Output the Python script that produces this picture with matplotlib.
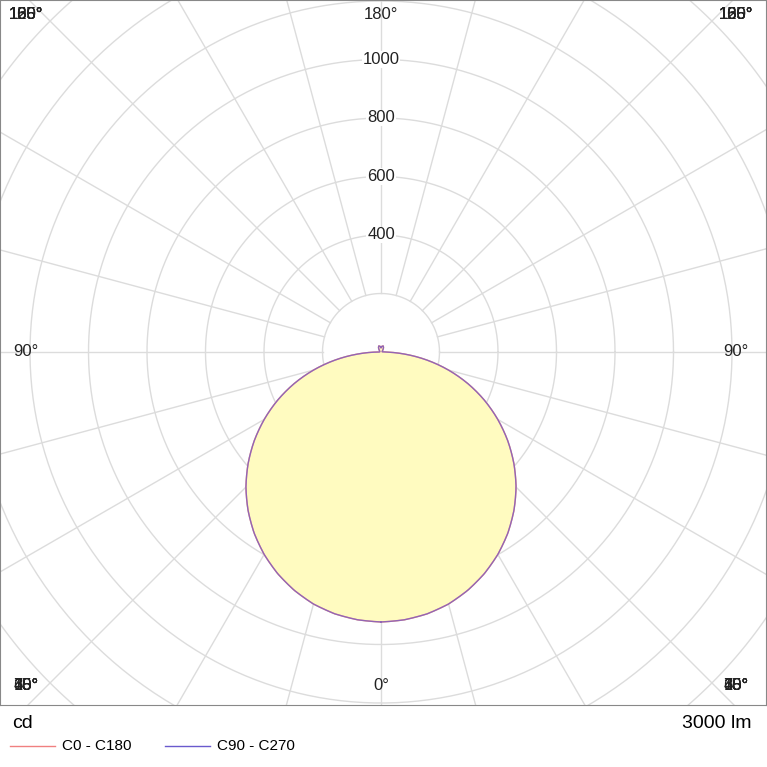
import numpy as np
import matplotlib.pyplot as plt

plt.rcParams['font.family'] = ['Liberation Sans', 'DejaVu Sans']

# luminous intensity (cd) vs angle from nadir, symmetric
angles = [0, 5, 10, 15, 20, 25, 30, 35, 40, 45, 50, 55, 60, 65, 70, 75, 80, 85, 90,
          100, 110, 120, 130, 140, 150, 160, 170, 180]
c0_c180 = [923, 919, 909, 892, 867, 836, 799, 756, 707, 653, 593, 529, 461, 390, 316, 239, 160, 80, 6,
           4, 4, 5, 7, 10, 17, 22, 20, 14]
c90_c270 = c0_c180
ring_values = [200, 400, 600, 800, 1000, 1200, 1400, 1600, 1800]
ring_labels = [400, 600, 800, 1000]
spoke_angles = list(range(0, 360, 15))
flux_text = "3000 lm"

S = 0.2925  # px per cd
W = 767
cx, cy = 381, 352
left, right, top, bottom = 0, 766, 0, 705

fig = plt.figure(figsize=(W / 100, W / 100), dpi=100)
ax = fig.add_axes([left / W, 1 - bottom / W, (right - left) / W, (bottom - top) / W])
ax.set_xlim((left - cx) / S, (right - cx) / S)
ax.set_ylim((cy - bottom) / S, (cy - top) / S)
ax.set_xticks([]); ax.set_yticks([])
for s in ax.spines.values():
    s.set_color('#888888'); s.set_linewidth(0.8)

grid = '#dcdcdc'
t = np.linspace(0, 2 * np.pi, 400)
for r in ring_values:
    ax.plot(r * np.cos(t), r * np.sin(t), color=grid, lw=1, zorder=1)
for a in spoke_angles:
    th = np.radians(a)
    ax.plot([200 * np.sin(th), 3000 * np.sin(th)], [-200 * np.cos(th), -3000 * np.cos(th)],
            color=grid, lw=1, zorder=1)

# curves (mirror to full circle), drawn with a fine angular step for smooth arcs
full_deg = np.concatenate([angles, 360 - np.array(angles[::-1])])
fine_deg = np.linspace(0, 360, 1441)
for vals, col, alpha in [(c0_c180, '#f08080', 1.0), (c90_c270, '#6a5acd', 0.7)]:
    v = np.interp(fine_deg, full_deg, np.concatenate([vals, vals[::-1]]))
    th = np.radians(fine_deg)
    x = v * np.sin(th); y = -v * np.cos(th)
    if col == '#f08080':
        ax.fill(x, y, color='#fffbc0', zorder=2)
    ax.plot(x, y, color=col, lw=1, alpha=alpha, zorder=3)

for r in ring_labels:
    ax.text(0, r, str(r), ha='center', va='center', fontsize=12, color='#222222', zorder=4,
            bbox=dict(facecolor='white', edgecolor='none', pad=0.5))

# angle labels along border
bx, by_top, by_bot = (381 - 26) / S, (352 - 15) / S, (685 - 352) / S
for a in range(-180, 180, 15):
    th = np.radians(a)
    dx, dy = np.sin(th), -np.cos(th)
    ts = []
    if abs(dx) > 1e-9:
        ts.append(bx / abs(dx))
    if dy > 1e-9:
        ts.append(by_top / dy)
    elif dy < -1e-9:
        ts.append(by_bot / -dy)
    tt = max(ts)
    px = np.clip(dx * tt, -bx, bx)
    py = np.clip(dy * tt, -by_bot, by_top)
    ax.text(px, py, f"{abs(a)}°", ha='center', va='center', fontsize=12,
            color='#222222', zorder=4)

fig.text(12 / W, 1 - 724 / W, "cd", fontsize=14, va='center', ha='left')
fig.text(752 / W, 1 - 724 / W, flux_text, fontsize=14, va='center', ha='right')
fig.lines.append(plt.Line2D([10 / W, 55 / W], [1 - 746 / W] * 2, color='#f08080', lw=1, transform=fig.transFigure))
fig.text(62 / W, 1 - 746 / W, "C0 - C180", fontsize=11, va='center')
fig.lines.append(plt.Line2D([165 / W, 210 / W], [1 - 746 / W] * 2, color='#6a5acd', lw=1, transform=fig.transFigure))
fig.text(217 / W, 1 - 746 / W, "C90 - C270", fontsize=11, va='center')

fig.savefig('out.png', dpi=100)
